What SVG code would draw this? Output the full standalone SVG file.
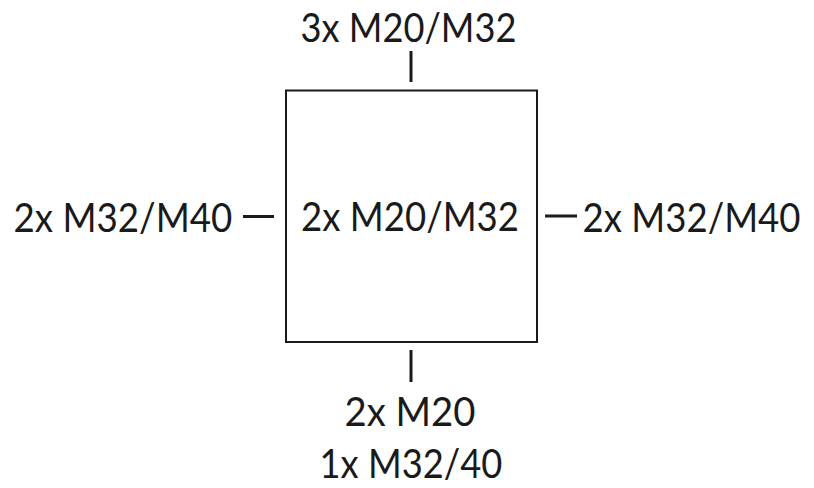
<svg xmlns="http://www.w3.org/2000/svg" width="814" height="488" viewBox="0 0 814 488">
<style>
  .lbl { font-family: "Lato", "Open Sans", "Liberation Sans", sans-serif; font-size: 41px; fill: #1a1a1a; }
  .ln { stroke: #1a1a1a; stroke-width: 3; fill: none; }
  .box { stroke: #1a1a1a; stroke-width: 2; fill: #ffffff; }
</style>
<rect width="814" height="488" fill="#ffffff"/>
<g id="box">
  <rect class="box" x="286" y="90.5" width="251" height="251.5"/>
  <text class="lbl" transform="translate(301,231) scale(0.85,1)" x="0" y="0" textLength="256.5" lengthAdjust="spacingAndGlyphs">2x M20/M32</text>
</g>
<g id="top">
  <text class="lbl" transform="translate(300.5,42) scale(0.85,1)" x="0" y="0" textLength="254" lengthAdjust="spacingAndGlyphs">3x M20/M32</text>
</g>
<g id="left">
  <text class="lbl" transform="translate(13.5,232) scale(0.85,1)" x="0" y="0" textLength="257.5" lengthAdjust="spacingAndGlyphs">2x M32/M40</text>
</g>
<g id="right">
  <text class="lbl" transform="translate(582.5,232) scale(0.85,1)" x="0" y="0" textLength="256.5" lengthAdjust="spacingAndGlyphs">2x M32/M40</text>
</g>
<g id="bottom">
  <text class="lbl" transform="translate(344.5,426) scale(0.85,1)" x="0" y="0" textLength="154" lengthAdjust="spacingAndGlyphs">2x M20</text>
  <text class="lbl" transform="translate(319.5,478) scale(0.85,1)" x="0" y="0" textLength="215" lengthAdjust="spacingAndGlyphs">1x M32/40</text>
</g>
<g id="connectors">
  <line class="ln" x1="411" y1="51" x2="411" y2="82"/>
  <line class="ln" x1="411" y1="350" x2="411" y2="382"/>
  <line class="ln" x1="243" y1="216.5" x2="274" y2="216.5"/>
  <line class="ln" x1="545" y1="216" x2="577" y2="216"/>
</g>
</svg>
